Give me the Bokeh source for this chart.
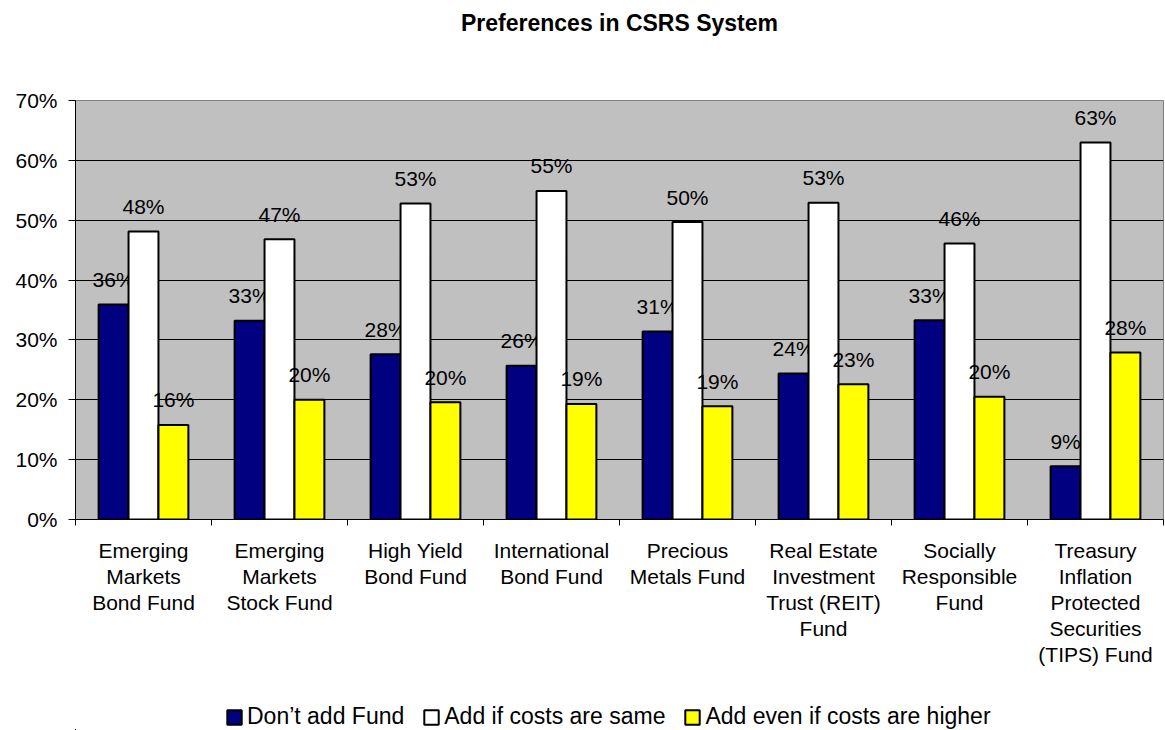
from bokeh.plotting import figure
from bokeh.layouts import column
from bokeh.models import (ColumnDataSource, FixedTicker, PrintfTickFormatter,
                          Legend, LegendItem, Range1d, LinearAxis)
from bokeh.core.properties import value
from bokeh.embed import file_html
from bokeh.resources import INLINE

title_text = "Preferences in CSRS System"
categories = [
    "Emerging\nMarkets\nBond Fund",
    "Emerging\nMarkets\nStock Fund",
    "High Yield\nBond Fund",
    "International\nBond Fund",
    "Precious\nMetals Fund",
    "Real Estate\nInvestment\nTrust (REIT)\nFund",
    "Socially\nResponsible\nFund",
    "Treasury\nInflation\nProtected\nSecurities\n(TIPS) Fund",
]
series_names = ["Don\u2019t add Fund", "Add if costs are same", "Add even if costs are higher"]
dont_add = [35.9, 33.2, 27.6, 25.7, 31.4, 24.4, 33.3, 8.9]
add_same = [48.1, 46.8, 52.8, 54.9, 49.7, 52.9, 46.1, 63.0]
add_higher = [15.8, 20.0, 19.6, 19.3, 18.9, 22.6, 20.5, 27.9]
y_ticks = [0, 10, 20, 30, 40, 50, 60, 70]

FONT = "Liberation Sans"
colors = ["#000080", "#FFFFFF", "#FFFF00"]
series = [dont_add, add_same, add_higher]
n_cat = len(categories)

p = figure(frame_width=1088, frame_height=419, output_backend="svg", toolbar_location=None,
           x_range=Range1d(0, n_cat), y_range=Range1d(0, 70),
           min_border_left=75, min_border_right=2, min_border_top=100, min_border_bottom=180)
p.background_fill_color = "#C0C0C0"
p.border_fill_color = "white"
p.outline_line_color = "#808080"
p.outline_line_width = 1

bar_w = 0.22
offsets = [-bar_w, 0.0, bar_w]
centers = [i + 0.5 for i in range(n_cat)]

sources = []
for vals, off, col in zip(series, offsets, colors):
    src = ColumnDataSource(dict(
        x=[c + off for c in centers],
        top=vals,
        lab=[f"{round(v)}%" for v in vals],
    ))
    sources.append(src)
    p.vbar(x="x", top="top", width=bar_w, bottom=0, source=src,
           fill_color=col, line_color="black", line_width=2)
    p.text(x="x", y="top", text="lab", source=src, text_align="center",
           text_baseline="alphabetic", y_offset=-25, text_font=value(FONT),
           text_font_size="21px", text_color="black")

# y axis
p.yaxis.ticker = FixedTicker(ticks=y_ticks)
p.yaxis.formatter = PrintfTickFormatter(format="%d%%")
p.yaxis.axis_line_color = "black"
p.yaxis.major_tick_out = 7
p.yaxis.major_tick_in = 0
p.yaxis.minor_tick_line_color = None
p.yaxis.major_label_standoff = 11
p.yaxis.major_label_text_font = FONT
p.yaxis.major_label_text_font_size = "21px"
p.yaxis.major_label_text_color = "black"

p.xgrid.grid_line_color = None
p.ygrid.grid_line_color = "black"
p.ygrid.grid_line_width = 1

# category labels: main x axis carries the first text line
lines = [c.split("\n") for c in categories]
n_lines = max(len(l) for l in lines)

xa = p.below[0]
xa.ticker = FixedTicker(ticks=centers, minor_ticks=list(range(n_cat + 1)))
xa.major_label_overrides = {c: l[0] for c, l in zip(centers, lines)}
xa.axis_line_color = "black"
xa.major_tick_out = 0
xa.major_tick_in = 0
xa.minor_tick_out = 6
xa.minor_tick_in = 0
xa.minor_tick_line_color = "black"
xa.major_label_standoff = 13
xa.major_label_text_font = FONT
xa.major_label_text_font_size = "21px"
xa.major_label_text_color = "black"

# further text lines, one label-only axis per line (top aligned)
for k in range(1, n_lines):
    ax = LinearAxis(ticker=FixedTicker(ticks=centers, minor_ticks=[]),
                    major_label_overrides={c: (l[k] if k < len(l) else "") for c, l in zip(centers, lines)})
    ax.axis_line_color = None
    ax.major_tick_line_color = None
    ax.minor_tick_line_color = None
    ax.major_tick_out = 0
    ax.major_tick_in = 0
    ax.major_label_standoff = 0
    ax.major_label_text_font = FONT
    ax.major_label_text_font_size = "21px"
    ax.major_label_text_color = "black"
    p.add_layout(ax, "below")

# title as a label-only axis above the frame
tax = LinearAxis(ticker=FixedTicker(ticks=[n_cat / 2], minor_ticks=[]),
                 major_label_overrides={n_cat / 2: title_text})
tax.axis_line_color = None
tax.major_tick_line_color = None
tax.minor_tick_line_color = None
tax.major_tick_out = 0
tax.major_tick_in = 0
tax.major_label_standoff = 65
tax.major_label_text_font = FONT
tax.major_label_text_font_size = "23px"
tax.major_label_text_font_style = "bold"
tax.major_label_text_color = "black"
p.add_layout(tax, "above")

# legend strip below the chart (its bars lie outside the strip's ranges)
p2 = figure(width=1165, height=31, output_backend="svg", toolbar_location=None,
            x_range=Range1d(100, 101), y_range=Range1d(1000, 1001),
            x_axis_location=None, y_axis_location=None, min_border=0)
p2.grid.visible = False
p2.outline_line_color = None
p2.background_fill_color = "white"
p2.border_fill_color = "white"
leg_renderers = []
for src, col in zip(sources, colors):
    leg_renderers.append(p2.vbar(x="x", top="top", width=bar_w, bottom=0, source=src,
                                 fill_color=col, line_color="black", line_width=2))

legend = Legend(items=[LegendItem(label=n, renderers=[r]) for n, r in zip(series_names, leg_renderers)],
                orientation="horizontal", location=(150, 0),
                border_line_color=None, background_fill_alpha=0,
                label_text_font=FONT, label_text_font_size="23px", label_text_color="black",
                label_height=17, glyph_width=18, glyph_height=18, label_standoff=4, spacing=18,
                padding=0, margin=0)
p2.add_layout(legend, "center")

layout = column(p, p2, spacing=0)
open("out.html", "w").write(file_html(layout, INLINE))
